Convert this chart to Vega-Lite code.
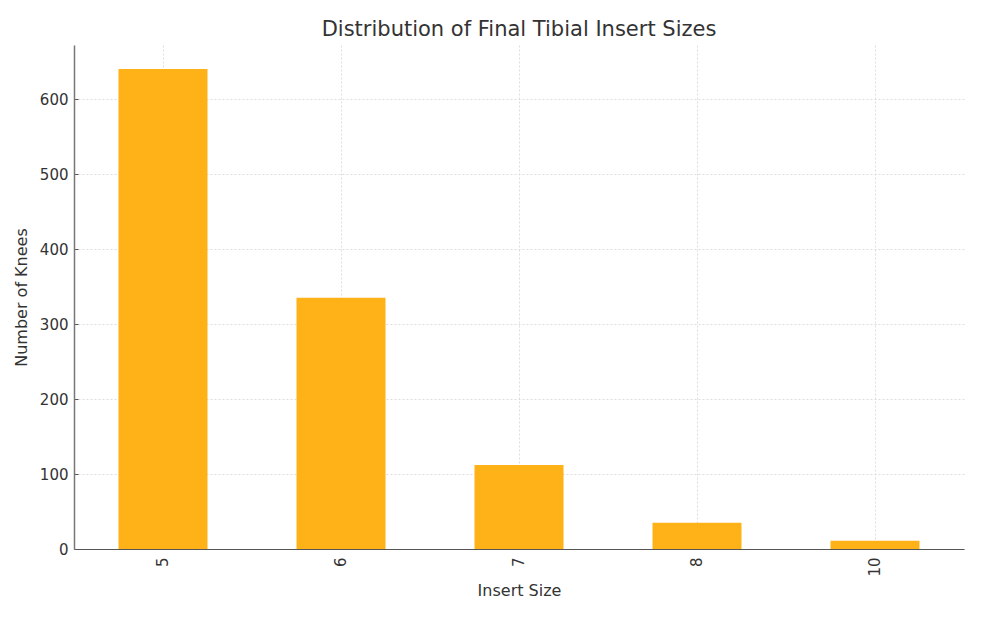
{
  "$schema": "https://vega.github.io/schema/vega-lite/v6.json",
  "width": 890,
  "height": 504,
  "autosize": {"type": "none"},
  "padding": {"left": 74, "top": 45, "right": 21, "bottom": 73},
  "background": "white",
  "title": {"text": "Distribution of Final Tibial Insert Sizes", "font": "DejaVu Sans", "fontSize": 21, "fontWeight": "normal", "color": "#333333", "offset": 5},
  "data": {"values": [
    {"size": "5", "count": 640},
    {"size": "6", "count": 335},
    {"size": "7", "count": 112},
    {"size": "8", "count": 35},
    {"size": "10", "count": 11}
  ]},
  "mark": {"type": "bar", "color": "#FFB217"},
  "encoding": {
    "x": {"field": "size", "type": "nominal", "sort": null, "title": "Insert Size",
      "scale": {"paddingInner": 0.5, "paddingOuter": 0.25},
      "axis": {"labelAngle": 270, "labelFont": "DejaVu Sans", "labelFontSize": 15, "labelColor": "#333333",
        "titleFont": "DejaVu Sans", "titleFontSize": 16, "titleFontWeight": "normal", "titleColor": "#333333", "titlePadding": 6,
        "domainColor": "#555555", "domainWidth": 1.2, "tickColor": "#555555", "tickSize": -4,
        "grid": true, "gridColor": "#dddddd", "gridDash": [2, 2], "labelPadding": 12}},
    "y": {"field": "count", "type": "quantitative", "title": "Number of Knees",
      "scale": {"domain": [0, 672], "nice": false},
      "axis": {"values": [0, 100, 200, 300, 400, 500, 600], "labelFont": "DejaVu Sans", "labelFontSize": 15, "labelColor": "#333333",
        "titleFont": "DejaVu Sans", "titleFontSize": 16, "titleFontWeight": "normal", "titleColor": "#333333", "titlePadding": 10,
        "domainColor": "#777777", "domainWidth": 1.5, "tickColor": "#555555", "tickSize": -4,
        "grid": true, "gridColor": "#dddddd", "gridDash": [2, 2], "labelPadding": 10}}
  },
  "config": {"view": {"stroke": null}}
}
